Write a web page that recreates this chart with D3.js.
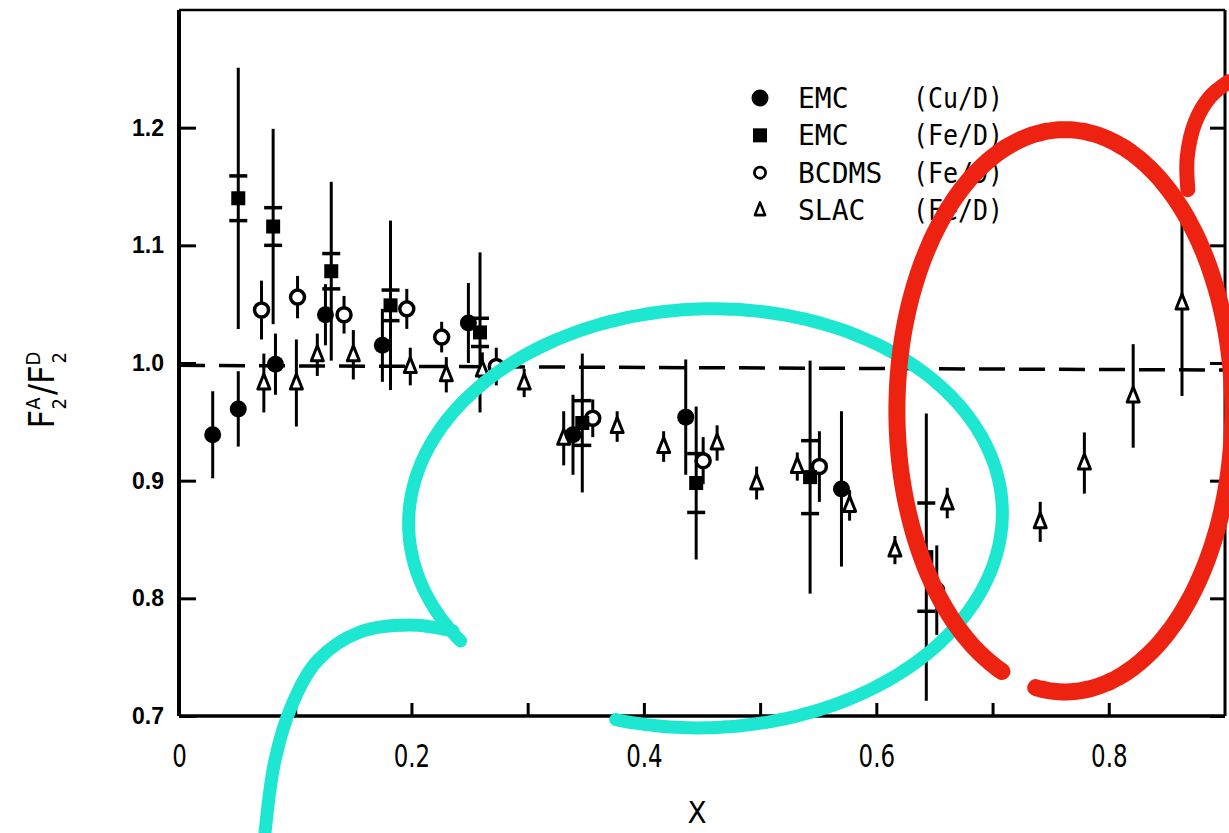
<!DOCTYPE html>
<html><head><meta charset="utf-8">
<script src="https://cdn.jsdelivr.net/npm/d3@7"></script>
<style>body{margin:0;background:#fff}svg{display:block}</style>
</head><body>
<svg id="chart" width="1229" height="833"></svg>
<script>
// ---- data ----
const emcCuX   = [0.029, 0.051, 0.083, 0.126, 0.175, 0.249, 0.339, 0.436, 0.570, 0.652];
const emcCuY   = [0.939, 0.961, 0.999, 1.041, 1.015, 1.034, 0.939, 0.954, 0.893, 0.807];
const emcCuErr = [0.037, 0.032, 0.026, 0.026, 0.031, 0.034, 0.034, 0.049, 0.066, 0.038];

const emcFeX    = [0.051, 0.081, 0.131, 0.182, 0.259, 0.347, 0.445, 0.543, 0.643];
const emcFeY    = [1.140, 1.116, 1.078, 1.049, 1.026, 0.949, 0.898, 0.903, 0.835];
const emcFeErr  = [0.111, 0.083, 0.076, 0.072, 0.068, 0.059, 0.065, 0.099, 0.122];
const emcFeStat = [0.019, 0.016, 0.015, 0.013, 0.012, 0.019, 0.025, 0.031, 0.046];

const bcdmsX   = [0.071, 0.102, 0.142, 0.196, 0.226, 0.273, 0.356, 0.451, 0.551];
const bcdmsY   = [1.045, 1.056, 1.041, 1.046, 1.022, 0.997, 0.953, 0.917, 0.912];
const bcdmsErr = [0.025, 0.018, 0.016, 0.017, 0.013, 0.016, 0.016, 0.020, 0.030];

const slacX   = [0.073, 0.101, 0.119, 0.150, 0.199, 0.230, 0.261, 0.297, 0.331, 0.377, 0.417,
                 0.463, 0.497, 0.532, 0.577, 0.616, 0.661, 0.741, 0.779, 0.821, 0.863];
const slacY   = [0.983, 0.983, 1.007, 1.007, 0.997, 0.990, 0.994, 0.983, 0.936, 0.946, 0.929,
                 0.932, 0.898, 0.912, 0.879, 0.841, 0.881, 0.865, 0.915, 0.972, 1.051];
const slacErr = [0.025, 0.037, 0.018, 0.021, 0.016, 0.015, 0.015, 0.012, 0.023, 0.013, 0.013,
                 0.015, 0.014, 0.012, 0.013, 0.012, 0.013, 0.017, 0.026, 0.044, 0.079];

const xTickValues = [0.1, 0.2, 0.3, 0.4, 0.5, 0.6, 0.7, 0.8];
const xLabelValues = [0, 0.2, 0.4, 0.6, 0.8];
const xLabelText = ["0", "0.2", "0.4", "0.6", "0.8"];
const yTickValues = [0.7, 0.8, 0.9, 1.0, 1.1, 1.2];
const yLabelText = ["0.7", "0.8", "0.9", "1.0", "1.1", "1.2"];

const legendExp    = ["EMC", "EMC", "BCDMS", "SLAC"];
const legendTarget = ["(Cu/D)", "(Fe/D)", "(Fe/D)", "(Fe/D)"];
const legendKind   = ["dot", "square", "ring", "tri"];

const refLineX = [0, 0.9];
const refLineY = [0.998, 0.994];

// hand-drawn annotation loops (data units)
const cyanLoop = {cx: 0.4530, cy: 0.868, rx: 0.2555, ry: 0.1780, rot: -2, a0: 147, a1: 470};
const cyanTailX = [0.2357, 0.1987, 0.1557, 0.1196, 0.0972, 0.0826, 0.0740];
const cyanTailY = [0.7723, 0.7774, 0.7714, 0.7476, 0.7094, 0.6626, 0.6005];
const redLoop = {cx: 0.7622, cy: 0.9594, rx: 0.1445, ry: 0.2389, rot: 0, a0: 112, a1: 460};
const redTailX = [0.868, 0.8675, 0.8745, 0.8870, 0.9032];
const redTailY = [1.1473, 1.1750, 1.2050, 1.2260, 1.2391];

// ---- scales ----
const svg = d3.select("#chart");
const x = d3.scaleLinear().domain([0, 0.9]).range([179, 1225]);
const y = d3.scaleLinear().domain([0.7, 1.3]).range([716, 10]);

const narrow = "'Liberation Sans Narrow','Arial Narrow','DejaVu Sans Condensed',sans-serif";
const mono = "'DejaVu Sans Mono','Liberation Mono',monospace";

// ---- axes ----
const gx = svg.append("g").attr("transform", `translate(0,${y(0.7)})`)
  .call(d3.axisBottom(x).tickValues(xTickValues).tickSizeInner(-13).tickSizeOuter(0).tickFormat(""));
gx.select(".domain").remove();
gx.selectAll(".tick line").attr("stroke", "#000").attr("stroke-width", 3);

const gxl = svg.append("g").attr("transform", `translate(0,${y(0.7)})`)
  .call(d3.axisBottom(x).tickValues(xLabelValues).tickSize(0).tickPadding(27)
    .tickFormat((d, i) => xLabelText[i]));
gxl.select(".domain").remove();
gxl.selectAll("text").attr("fill", "#000").style("font-family", narrow).style("font-size", "30px")
  .attr("transform", "scale(0.85,1.05)")
  .attr("x", function () { return 0; });
// keep labels centred on their ticks after horizontal squeeze
gxl.selectAll(".tick").each(function () {
  const t = d3.select(this).select("text");
  t.attr("transform", "scale(0.85,1.05)");
});

const gy = svg.append("g").attr("transform", `translate(${x(0)},0)`)
  .call(d3.axisLeft(y).tickValues(yTickValues).tickSizeInner(-17).tickSizeOuter(0).tickPadding(15)
    .tickFormat((d, i) => yLabelText[i]));
gy.select(".domain").remove();
gy.selectAll(".tick line").attr("stroke", "#000").attr("stroke-width", 3);
gy.selectAll("text").attr("fill", "#000").style("font-family", "'Liberation Sans',Arial,sans-serif")
  .style("font-size", "23px").style("font-weight", "bold");

const gr = svg.append("g").attr("transform", `translate(${x(0.9)},0)`)
  .call(d3.axisRight(y).tickValues(yTickValues).tickSizeInner(-15).tickSizeOuter(0).tickFormat(""));
gr.select(".domain").remove();
gr.selectAll(".tick line").attr("stroke", "#000").attr("stroke-width", 3);

// frame
const [x0, x1] = x.range();
const [yb, yt] = y.range();
svg.append("line").attr("x1", x0).attr("x2", x0).attr("y1", yt).attr("y2", yb).attr("stroke", "#000").attr("stroke-width", 4);
svg.append("line").attr("x1", x0).attr("x2", x1).attr("y1", yb).attr("y2", yb).attr("stroke", "#000").attr("stroke-width", 3.5);
svg.append("line").attr("x1", x0).attr("x2", x1).attr("y1", yt).attr("y2", yt).attr("stroke", "#000").attr("stroke-width", 2.5);
svg.append("line").attr("x1", x1).attr("x2", x1).attr("y1", yt).attr("y2", yb).attr("stroke", "#000").attr("stroke-width", 3);

// titles
svg.append("text").attr("x", (x0 + x1) / 2 - 5).attr("y", 823).attr("text-anchor", "middle")
  .style("font-family", narrow).style("font-size", "31px").text("X");

const ytl = svg.append("text").attr("transform", "translate(54,390) rotate(-90)").attr("text-anchor", "middle")
  .style("font-family", narrow).style("font-size", "36px");
ytl.append("tspan").text("F");
ytl.append("tspan").attr("dy", -14).style("font-size", "20px").text("A");
ytl.append("tspan").attr("dx", -12).attr("dy", 26).style("font-size", "20px").text("2");
ytl.append("tspan").attr("dx", 3).attr("dy", -12).text("/F");
ytl.append("tspan").attr("dy", -14).style("font-size", "20px").text("D");
ytl.append("tspan").attr("dx", -12).attr("dy", 26).style("font-size", "20px").text("2");

// reference dashed line
const refData = refLineX.map((v, i) => [v, refLineY[i]]);
svg.append("path").datum(refData)
  .attr("d", d3.line().x(d => x(d[0])).y(d => y(d[1])))
  .attr("fill", "none").attr("stroke", "#000").attr("stroke-width", 3.5).attr("stroke-dasharray", "26,14");

// ---- marks ----
const pts = (xs, ys, es, st) => xs.map((v, i) => ({x: v, y: ys[i], e: es[i], s: st ? st[i] : null}));
const cu = pts(emcCuX, emcCuY, emcCuErr);
const fe = pts(emcFeX, emcFeY, emcFeErr, emcFeStat);
const bc = pts(bcdmsX, bcdmsY, bcdmsErr);
const sl = pts(slacX, slacY, slacErr);

const gErr = svg.append("g").attr("stroke", "#000").attr("stroke-width", 3);
[cu, fe, bc, sl].forEach(set => {
  gErr.selectAll(null).data(set).enter().append("line")
    .attr("x1", d => x(d.x)).attr("x2", d => x(d.x))
    .attr("y1", d => y(d.y - d.e)).attr("y2", d => y(d.y + d.e));
});
// inner (statistical) caps for EMC Fe
fe.forEach(d => {
  [d.y - d.s, d.y + d.s].forEach(v => {
    gErr.append("line").attr("x1", x(d.x) - 9).attr("x2", x(d.x) + 9)
      .attr("y1", y(v)).attr("y2", y(v)).attr("stroke-width", 3.5);
  });
});

const triPath = "M0,-9L6,6L-6,6Z";
function marker(sel, kind) {
  if (kind === "dot") sel.append("circle").attr("r", 8.5).attr("fill", "#000");
  else if (kind === "square") sel.append("rect").attr("x", -7).attr("y", -7).attr("width", 14).attr("height", 14).attr("fill", "#000");
  else if (kind === "ring") sel.append("circle").attr("r", 7).attr("fill", "#fff").attr("stroke", "#000").attr("stroke-width", 3.5);
  else sel.append("path").attr("d", triPath).attr("fill", "#fff").attr("stroke", "#000").attr("stroke-width", 3).attr("stroke-linejoin", "round");
}
[[sl, "tri"], [bc, "ring"], [cu, "dot"], [fe, "square"]].forEach(([set, kind]) => {
  svg.append("g").selectAll("g").data(set).enter().append("g")
    .attr("transform", d => `translate(${x(d.x)},${y(d.y)})`)
    .each(function () { marker(d3.select(this), kind); });
});

// ---- legend ----
const ly = d3.scalePoint().domain(d3.range(legendExp.length)).range([98, 210]);
const lg = svg.append("g");
legendExp.forEach((name, i) => {
  const row = lg.append("g").attr("transform", `translate(760,${ly(i)})`);
  const m = row.append("g").attr("transform", legendKind[i] === "ring" ? "scale(0.8)" : legendKind[i] === "tri" ? "scale(0.85)" : "scale(1)");
  marker(m, legendKind[i]);
  row.append("text").attr("x", 38).attr("y", 10).style("font-family", mono).style("font-size", "28px").text(name);
  row.append("text").attr("x", 153).attr("y", 10).style("font-family", mono).style("font-size", "28px")
    .attr("textLength", 90).attr("lengthAdjust", "spacingAndGlyphs").text(legendTarget[i]);
});

// ---- annotations ----
function loopPts(L) {
  const cx = x(L.cx), cy = y(L.cy);
  const rx = x(L.cx + L.rx) - cx, ry = y(L.cy) - y(L.cy + L.ry);
  const r = L.rot * Math.PI / 180;
  return d3.range(L.a0, L.a1 + 1, 2).map(a => {
    const t = a * Math.PI / 180;
    const ex = rx * Math.cos(t), ey = ry * Math.sin(t);
    return [cx + ex * Math.cos(r) - ey * Math.sin(r), cy + ex * Math.sin(r) + ey * Math.cos(r)];
  });
}
const curve = d3.line().curve(d3.curveCatmullRom);
const cyanCol = "#1de6d1", redCol = "#ee2211";

svg.append("path").attr("d", curve(cyanTailX.map((v, i) => [x(v), y(cyanTailY[i])]).reverse()))
  .attr("fill", "none").attr("stroke", cyanCol).attr("stroke-width", 13).attr("stroke-linecap", "round");
svg.append("path").attr("d", curve(loopPts(cyanLoop)))
  .attr("fill", "none").attr("stroke", cyanCol).attr("stroke-width", 13).attr("stroke-linecap", "round");

svg.append("path").attr("d", curve(loopPts(redLoop)))
  .attr("fill", "none").attr("stroke", redCol).attr("stroke-width", 17).attr("stroke-linecap", "round");
svg.append("path").attr("d", curve(redTailX.map((v, i) => [x(v), y(redTailY[i])])))
  .attr("fill", "none").attr("stroke", redCol).attr("stroke-width", 15).attr("stroke-linecap", "round");
</script>
</body></html>
